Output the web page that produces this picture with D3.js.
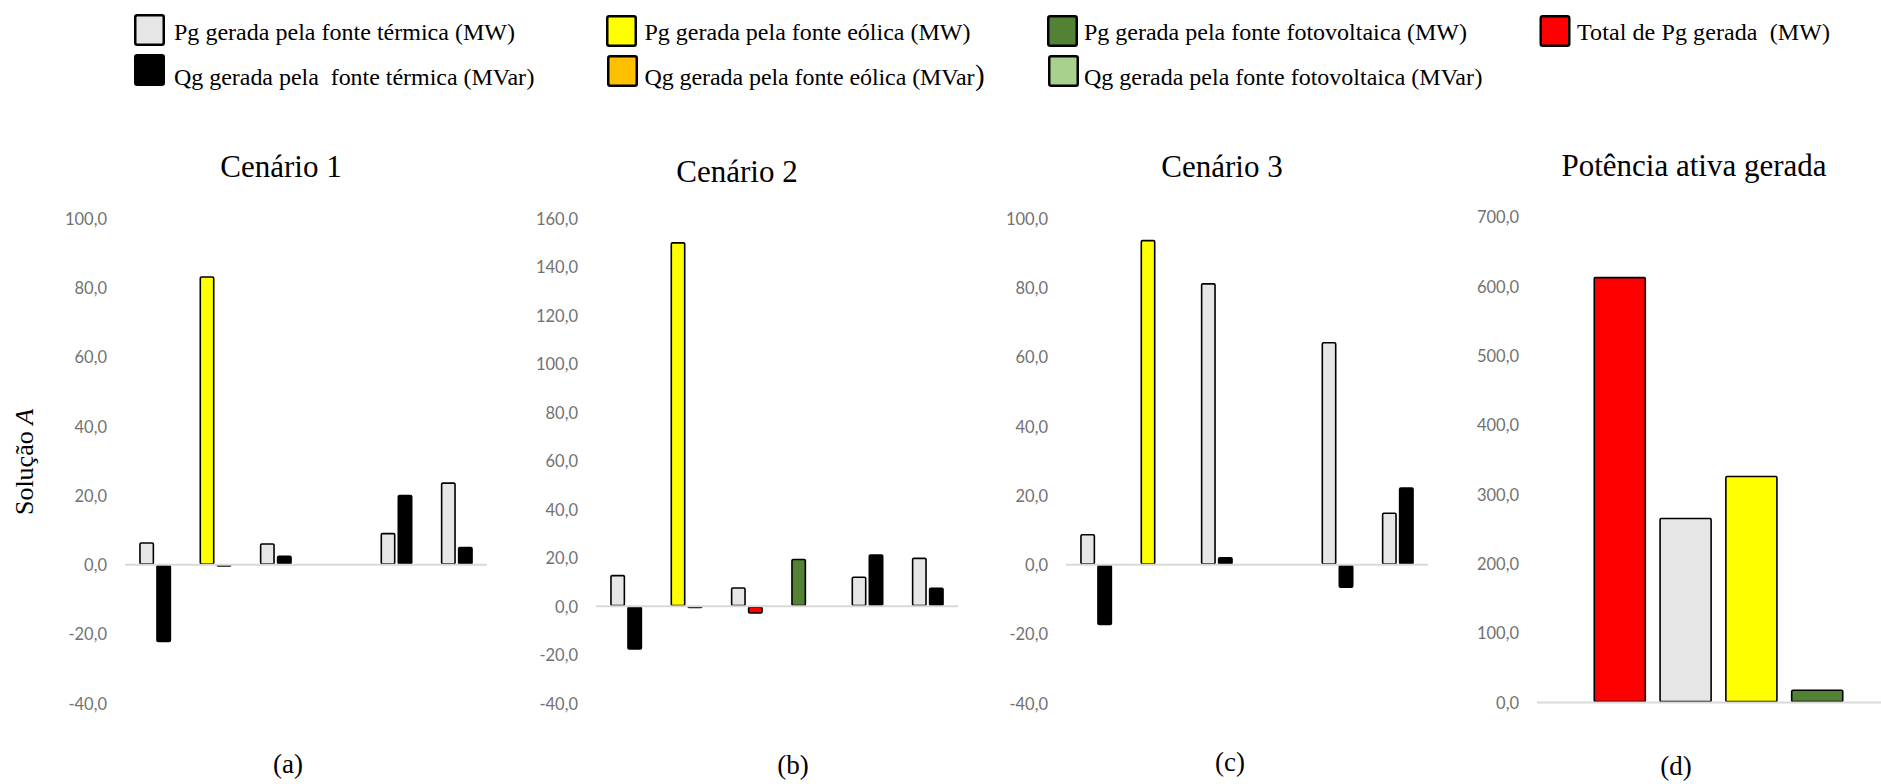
<!DOCTYPE html>
<html lang="pt">
<head>
<meta charset="utf-8">
<title>Potência gerada por cenário</title>
<script src="https://cdn.jsdelivr.net/npm/d3@7"></script>
<style>
  html, body { margin: 0; padding: 0; background: #fff; }
  svg { display: block; }
  .serif { font-family: "Liberation Serif", "Times New Roman", serif; fill: #000; }
  .tick text { font-family: Lato, "Open Sans", sans-serif; font-size: 16.5px; fill: #727272; }
  .legenda text { white-space: pre; }
</style>
</head>
<body>
<script>
// ---- Dados -------------------------------------------------------------
const geradores = ["G1", "G2", "G3", "G4", "G5", "G6"];
const fonteGerador = ["térmica", "eólica", "térmica", "fotovoltaica", "térmica", "térmica"];

// Cenário 1
const pgCenario1 = [6.5, 83.3, 6.2, 0, 9.2, 23.8];
const qgCenario1 = [-22.4, -0.6, 2.7, 0, 20.2, 5.2];
// Cenário 2
const pgCenario2 = [13.0, 150.2, 7.9, 19.6, 12.3, 20.1];
const qgCenario2 = [-17.9, -0.8, -3.1, 0.5, 21.5, 7.8];
// Cenário 3
const pgCenario3 = [8.9, 93.8, 81.3, 0, 64.3, 15.1];
const qgCenario3 = [-17.5, 0.3, 2.2, 0, -6.7, 22.4];

// Potência ativa gerada (soma dos cenários)
const totaisCategorias = ["Total", "térmica", "eólica", "fotovoltaica"];
const totaisPg = [613.5, 266.3, 326.7, 18.7];

const ticksCenario1 = [-40, -20, 0, 20, 40, 60, 80, 100];
const ticksCenario2 = [-40, -20, 0, 20, 40, 60, 80, 100, 120, 140, 160];
const ticksCenario3 = [-40, -20, 0, 20, 40, 60, 80, 100];
const ticksTotais = [0, 100, 200, 300, 400, 500, 600, 700];

const titulos = ["Cenário 1", "Cenário 2", "Cenário 3", "Potência ativa gerada"];
const rotulos = ["(a)", "(b)", "(c)", "(d)"];

const legendaLinha1 = [
  "Pg gerada pela fonte térmica (MW)",
  "Pg gerada pela fonte eólica (MW)",
  "Pg gerada pela fonte fotovoltaica (MW)",
  "Total de Pg gerada  (MW)"
];
const legendaLinha2 = [
  "Qg gerada pela  fonte térmica (MVar",
  "Qg gerada pela fonte eólica (MVar",
  "Qg gerada pela fonte fotovoltaica (MVar"
];

// ---- Estilos -------------------------------------------------------------
const corPg = { "térmica": "#e7e6e6", "eólica": "#ffff00", "fotovoltaica": "#548235" };
const corQg = { "térmica": "#000000", "eólica": "#ffc000", "fotovoltaica": "#a9d18e" };
const corTotal = "#ff0000";
// Barra de Qg do gerador 3 no cenário 2 aparece destacada em vermelho
const destaqueQg = { cenario: 1, gerador: 2, cor: "#ff0000" };

const W = 1881, H = 784;
const TRACO = 1.6;          // espessura do contorno das barras
const fmt = v => v.toFixed(1).replace(".", ",");

const svg = d3.select("body").append("svg")
  .attr("width", W).attr("height", H)
  .attr("viewBox", `0 0 ${W} ${H}`);
svg.append("rect").attr("width", W).attr("height", H).attr("fill", "#fff");

// desenha um retângulo cujo contorno fica contido na área externa (ox, oy, ow, oh)
function barra(g, ox, oy, ow, oh, fill) {
  g.append("rect")
    .attr("x", ox + TRACO / 2)
    .attr("y", oy + TRACO / 2)
    .attr("width", Math.max(0, ow - TRACO))
    .attr("height", Math.max(0, oh - TRACO))
    .attr("rx", 1.2)
    .attr("fill", fill)
    .attr("stroke", "#000")
    .attr("stroke-width", TRACO);
}

function eixoY(g, y, ticks, x0) {
  const ax = g.append("g")
    .attr("transform", `translate(${x0},0)`)
    .call(d3.axisLeft(y).tickValues(ticks).tickSize(0).tickPadding(18).tickFormat(fmt));
  ax.select(".domain").remove();
  ax.selectAll(".tick text").attr("dy", "0.36em");
}

function linhaZero(g, y, x0, largura) {
  g.append("line")
    .attr("x1", x0).attr("x2", x0 + largura)
    .attr("y1", y(0)).attr("y2", y(0))
    .attr("stroke", "#d9d9d9").attr("stroke-width", 2);
}

// ---- Painéis de cenário ------------------------------------------------
const cenarios = [
  { pg: pgCenario1, qg: qgCenario1, ticks: ticksCenario1, x0: 125, tx: 281, ty: 177, lx: 288, ly: 773 },
  { pg: pgCenario2, qg: qgCenario2, ticks: ticksCenario2, x0: 596, tx: 737, ty: 182, lx: 793, ly: 774 },
  { pg: pgCenario3, qg: qgCenario3, ticks: ticksCenario3, x0: 1066, tx: 1222, ty: 177, lx: 1230, ly: 771 }
];
const LARG = 362;
const Y_BASE = 703.3, Y_TOPO = 218.3;

cenarios.forEach((c, ci) => {
  const g = svg.append("g");
  const y = d3.scaleLinear().domain(d3.extent(c.ticks)).range([Y_BASE, Y_TOPO]);
  const x = d3.scaleBand().domain(geradores).range([c.x0, c.x0 + LARG]);
  const xs = d3.scaleBand().domain(["Pg", "Qg"]).range([-16, 16]).paddingInner(2 - 32 / 17);

  eixoY(g, y, c.ticks, c.x0);

  geradores.forEach((ger, i) => {
    const fonte = fonteGerador[i];
    const centro = x(ger) + x.bandwidth() / 2;
    [["Pg", c.pg[i]], ["Qg", c.qg[i]]].forEach(([serie, v]) => {
      if (v === 0) return;
      let fill = serie === "Pg" ? corPg[fonte] : corQg[fonte];
      if (serie === "Qg" && ci === destaqueQg.cenario && i === destaqueQg.gerador) fill = destaqueQg.cor;
      const y0 = y(0), yv = y(v);
      barra(g, centro + xs(serie), Math.min(y0, yv), xs.bandwidth(), Math.abs(yv - y0), fill);
    });
  });

  linhaZero(g, y, c.x0, LARG);

  g.append("text").attr("class", "serif")
    .attr("x", c.tx).attr("y", c.ty).attr("text-anchor", "middle")
    .attr("font-size", 31).text(titulos[ci]);
  g.append("text").attr("class", "serif")
    .attr("x", c.lx).attr("y", c.ly).attr("text-anchor", "middle")
    .attr("font-size", 27).text(rotulos[ci]);
});

// ---- Painel de totais --------------------------------------------------
{
  const g = svg.append("g");
  const x0 = 1537, largura = 363;
  const y = d3.scaleLinear().domain(d3.extent(ticksTotais)).range([702.4, 216.8]);
  const x = d3.scaleBand().domain(totaisCategorias).range([x0, x0 + largura])
    .paddingInner(0.2).paddingOuter(0.858);
  const cores = [corTotal, corPg["térmica"], corPg["eólica"], corPg["fotovoltaica"]];

  eixoY(g, y, ticksTotais, x0);
  totaisCategorias.forEach((cat, i) => {
    const yv = y(totaisPg[i]), y0 = y(0);
    barra(g, x(cat), yv, x.bandwidth(), y0 - yv, cores[i]);
  });
  linhaZero(g, y, x0, largura);

  g.append("text").attr("class", "serif")
    .attr("x", 1694).attr("y", 176).attr("text-anchor", "middle")
    .attr("font-size", 31).text(titulos[3]);
  g.append("text").attr("class", "serif")
    .attr("x", 1676).attr("y", 775).attr("text-anchor", "middle")
    .attr("font-size", 27).text(rotulos[3]);
}

// ---- Rótulo do eixo Y --------------------------------------------------
{
  const t = svg.append("text").attr("class", "serif")
    .attr("transform", "translate(33,462) rotate(-90)")
    .attr("text-anchor", "middle").attr("font-size", 26);
  t.append("tspan").text("Solução ");
  t.append("tspan").attr("font-style", "italic").text("A");
}

// ---- Legenda -----------------------------------------------------------
{
  const leg = svg.append("g").attr("class", "legenda");
  const linha1 = [
    { x: 134, y: 14, fill: corPg["térmica"], tx: 174, comp: 341 },
    { x: 606, y: 15, fill: corPg["eólica"], tx: 644.5, comp: 326 },
    { x: 1047, y: 15, fill: corPg["fotovoltaica"], tx: 1084, comp: 383 },
    { x: 1539.5, y: 15, fill: corTotal, tx: 1577, comp: 253 }
  ];
  const linha2 = [
    { x: 134, y: 54, fill: corQg["térmica"], tx: 174, comp: 352 },
    { x: 607, y: 55, fill: corQg["eólica"], tx: 644.5, comp: 330 },
    { x: 1048, y: 55, fill: corQg["fotovoltaica"], tx: 1084, comp: 390 }
  ];
  function item(d, texto, base) {
    leg.append("rect")
      .attr("x", d.x + 1.25).attr("y", d.y + 1.25)
      .attr("width", 28.5).attr("height", 29.5).attr("rx", 2)
      .attr("fill", d.fill).attr("stroke", "#000").attr("stroke-width", 2.5);
    leg.append("text").attr("class", "serif")
      .attr("x", d.tx).attr("y", base).attr("font-size", 24)
      .attr("textLength", d.comp).attr("lengthAdjust", "spacing")
      .text(texto);
  }
  linha1.forEach((d, i) => item(d, legendaLinha1[i], 40));
  linha2.forEach((d, i) => {
    item(d, legendaLinha2[i], 85);
    // parêntese de fechamento (maior na entrada eólica)
    leg.append("text").attr("class", "serif")
      .attr("x", d.tx + d.comp + 0.5).attr("y", 85)
      .attr("font-size", i === 1 ? 29 : 24).text(")");
  });
}
</script>
</body>
</html>
